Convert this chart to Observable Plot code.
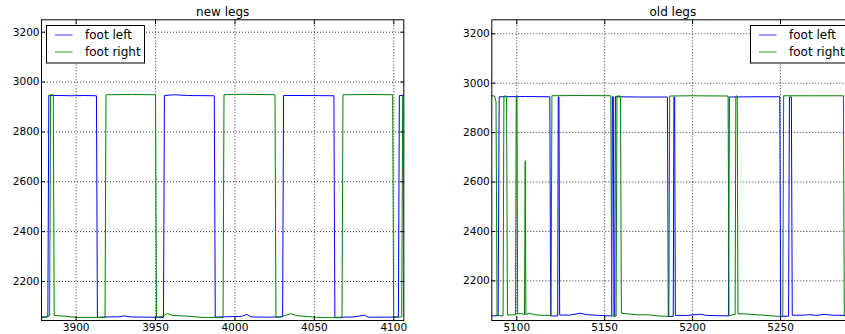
<!DOCTYPE html>
<html>
<head>
<meta charset="utf-8">
<script src="https://cdn.jsdelivr.net/npm/d3@7"></script>
<script src="https://cdn.jsdelivr.net/npm/@observablehq/plot@0.6"></script>
<style>
  html, body { margin: 0; padding: 0; background: #fff; overflow: hidden; }
  #wrap { position: relative; width: 845px; height: 334px; overflow: hidden; background: #fff; font-family: "DejaVu Sans", sans-serif; }
  .panel { position: absolute; top: 0; width: 420px; height: 334px; }
  .panel svg { max-width: none !important; }
  #overlay { position: absolute; left: 0; top: 0; pointer-events: none; }
</style>
</head>
<body>
<div id="wrap">
  <div class="panel" id="p1" style="left:0px"></div>
  <div class="panel" id="p2" style="left:450px"></div>
  <svg id="overlay" width="845" height="334"></svg>
</div>
<script>
// ---- data ----
const seriesNames = ["foot left", "foot right"];
const seriesColors = ["#0000ff", "#008000"];
const yTicks = [2200, 2400, 2600, 2800, 3000, 3200];
const newXTicks = [3900, 3950, 4000, 4050, 4100];
const oldXTicks = [5100, 5150, 5200, 5250];
const panelTitles = ["new legs", "old legs"];

// new legs: [x, value]
const newFootLeft = [
  [3878, 2057], [3880, 2059], [3882.2, 2058], [3882.8, 2946], [3890, 2946], [3897, 2945], [3905, 2946],
  [3912.8, 2945], [3913.4, 2056], [3920, 2058], [3926, 2058], [3930.5, 2062], [3934, 2058], [3945, 2057],
  [3955, 2056], [3955.6, 2946], [3962, 2949], [3970, 2946], [3987, 2945], [3987.6, 2057], [3997, 2059],
  [4004, 2060], [4007.5, 2068], [4010, 2058], [4020, 2057], [4030, 2058], [4030.6, 2946], [4045, 2946],
  [4062.3, 2945], [4062.9, 2056], [4075, 2058], [4081.5, 2065], [4084, 2057], [4095, 2057], [4102.9, 2058],
  [4103.5, 2946], [4107, 2946]
];
const newFootRight = [
  [3878, 2055], [3881, 2057], [3883.3, 2063], [3883.9, 2949], [3885.6, 2949], [3886.2, 2064], [3893, 2061],
  [3900, 2056], [3910, 2056], [3918.2, 2056], [3918.8, 2949], [3935, 2950], [3950, 2949], [3950.6, 2056],
  [3954, 2060], [3957.5, 2071], [3961, 2064], [3970, 2061], [3980, 2056], [3992.5, 2055], [3993.1, 2949],
  [4005, 2951], [4025.2, 2949], [4025.8, 2056], [4030, 2060], [4035, 2071], [4039, 2063], [4050, 2057],
  [4060, 2055], [4067.4, 2055], [4068, 2949], [4085, 2950], [4099.3, 2949], [4099.9, 2056], [4105, 2058],
  [4105.6, 2949], [4107, 2949]
];

// old legs: [x, value]
const oldFootLeft = [
  [5085, 2058], [5089.4, 2059], [5090, 2945], [5105, 2946], [5118.8, 2945], [5119.3, 2058], [5123.3, 2058],
  [5123.6, 2944], [5124, 2944], [5124.4, 2062], [5130, 2061], [5136, 2069], [5140, 2063], [5147, 2060],
  [5154, 2058], [5154.4, 2945], [5154.9, 2945], [5155.3, 2058], [5155.7, 2058], [5156.1, 2945], [5170, 2944],
  [5185.7, 2944], [5186.2, 2056], [5189, 2056], [5189.4, 2944], [5189.8, 2944], [5190.2, 2060], [5197, 2060],
  [5204.5, 2065], [5208, 2060], [5215, 2059], [5220.4, 2058], [5220.9, 2944], [5235, 2945], [5249.6, 2945],
  [5250.1, 2056], [5254.6, 2057], [5255.1, 2944], [5256.2, 2944], [5256.7, 2061], [5262, 2061], [5267, 2063],
  [5270, 2060], [5275, 2064], [5280, 2061], [5287, 2060], [5293, 2060]
];
const oldFootRight = [
  [5085, 2949], [5087.4, 2948], [5088.2, 2925], [5088.8, 2060], [5092.2, 2058], [5092.7, 2948], [5094.2, 2948],
  [5094.7, 2061], [5097, 2063], [5099.3, 2062], [5099.7, 2949], [5100.1, 2949], [5100.5, 2066], [5102, 2068],
  [5104.4, 2064], [5104.8, 2686], [5105.2, 2063], [5107, 2069], [5110, 2063], [5113, 2061], [5119.5, 2060],
  [5120, 2949], [5135, 2950], [5153.5, 2949], [5154, 2057], [5156.5, 2057], [5157, 2948], [5159, 2948],
  [5159.5, 2069], [5165, 2065], [5170, 2062], [5175, 2063], [5180, 2058], [5186.5, 2056], [5187, 2948],
  [5200, 2949], [5220.2, 2948], [5220.7, 2058], [5222, 2060], [5223, 2064], [5224.2, 2064], [5224.6, 2948],
  [5225.4, 2948], [5225.8, 2067], [5230, 2066], [5240, 2061], [5251.3, 2055], [5251.8, 2949], [5270, 2949],
  [5285.8, 2949], [5286.3, 2058], [5293, 2058]
];

// ---- drawing ----
function panel({title, footLeft, footRight, xDomain, yDomain, xTicks, marginLeft, marginRight}) {
  const dotted = {stroke: "#000", strokeOpacity: 0.8, strokeWidth: 1, strokeDasharray: "1,2"};
  return Plot.plot({
    width: 420,
    height: 334,
    marginLeft,
    marginRight,
    marginTop: 19.3,
    marginBottom: 14,
    x: {domain: xDomain, label: null},
    y: {domain: yDomain, label: null},
    style: {fontFamily: "DejaVu Sans, sans-serif", fontSize: "10.5px", background: "transparent", color: "#000", overflow: "visible", maxWidth: "none"},
    marks: [
      Plot.gridX(xTicks, dotted),
      Plot.gridY(yTicks, dotted),
      Plot.line(footLeft, {x: d => d[0], y: d => d[1], stroke: seriesColors[0], strokeWidth: 1, clip: true}),
      Plot.line(footRight, {x: d => d[0], y: d => d[1], stroke: seriesColors[1], strokeWidth: 1, clip: true}),
      Plot.frame({stroke: "#000", strokeWidth: 1}),
      Plot.axisX(xTicks, {anchor: "bottom", tickSize: 0, tickPadding: 3.5, tickFormat: d => String(d), fill: "#000"}),
      Plot.axisX(xTicks, {anchor: "bottom", tickSize: -4, tickFormat: () => "", stroke: "#000"}),
      Plot.axisX(xTicks, {anchor: "top", tickSize: -4, tickFormat: () => "", stroke: "#000"}),
      Plot.axisY(yTicks, {anchor: "left", tickSize: 0, tickPadding: 2, tickFormat: d => String(d), fill: "#000"}),
      Plot.axisY(yTicks, {anchor: "left", tickSize: -4, tickFormat: () => "", stroke: "#000"}),
      Plot.axisY(yTicks, {anchor: "right", tickSize: -4, tickFormat: () => "", stroke: "#000"}),
      Plot.text([title], {frameAnchor: "top", text: d => d, dy: -7.5, fontSize: 12, lineAnchor: "middle", fill: "#000"})
    ]
  });
}

document.getElementById("p1").appendChild(panel({
  title: panelTitles[0], footLeft: newFootLeft, footRight: newFootRight,
  xDomain: [3878.2, 4106.3], yDomain: [2043.6, 3249.7], xTicks: newXTicks,
  marginLeft: 41, marginRight: 16.7
}));
document.getElementById("p2").appendChild(panel({
  title: panelTitles[1], footLeft: oldFootLeft, footRight: oldFootRight,
  xDomain: [5085.8, 5291.7], yDomain: [2039.5, 3256.5], xTicks: oldXTicks,
  marginLeft: 41.3, marginRight: 16.7
}));

// legends (upper left in panel 1, upper right in panel 2)
const overlay = d3.select("#overlay");
[46.5, 750.5].forEach(lx => {
  const g = overlay.append("g").attr("transform", `translate(${lx},25.5)`);
  g.append("rect").attr("width", 98).attr("height", 37.5).attr("fill", "#fff").attr("stroke", "#000").attr("stroke-width", 1);
  seriesNames.forEach((name, i) => {
    const y = 9.5 + i * 17;
    g.append("line").attr("x1", 8.5).attr("x2", 26).attr("y1", y).attr("y2", y)
      .attr("stroke", seriesColors[i]).attr("stroke-width", 1.3).attr("stroke-opacity", 0.6);
    g.append("text").attr("x", 38.5).attr("y", y + 4.3).attr("font-size", 12)
      .attr("font-family", "DejaVu Sans, sans-serif").attr("fill", "#000").text(name);
  });
});
</script>
</body>
</html>
